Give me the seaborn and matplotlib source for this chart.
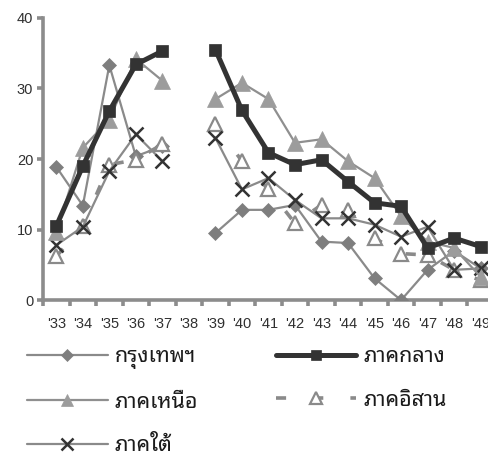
import matplotlib
matplotlib.use("Agg")
import matplotlib.pyplot as plt
from matplotlib.lines import Line2D
from matplotlib.ticker import FixedLocator, NullFormatter
import numpy as np
import pandas as pd
import seaborn as sns

# Survey years (Buddhist era, short form); '38 has no data
years = ["'33", "'34", "'35", "'36", "'37", "'38", "'39", "'40", "'41",
         "'42", "'43", "'44", "'45", "'46", "'47", "'48", "'49"]
nan = np.nan

bangkok = [18.9, 13.4, 33.3, 20.4, 21.8, nan, 9.5, 12.8, 12.8, 13.5,
           8.3, 8.1, 3.1, 0.0, 4.3, 7.0, 4.5]
central = [10.5, 19.0, 26.8, 33.4, 35.3, nan, 35.5, 26.9, 20.9, 19.2,
           19.9, 16.8, 13.8, 13.3, 7.4, 8.8, 7.6]
north = [9.7, 21.6, 25.6, 34.2, 31.1, nan, 28.5, 30.8, 28.5, 22.3,
         22.8, 19.7, 17.3, 11.9, 8.3, 7.4, 3.3]
northeast = [6.2, 10.5, 19.2, 19.9, 22.1, nan, 24.9, 19.7, 15.7, 10.9,
             13.5, 12.8, 8.8, 6.6, 6.4, 4.3, 2.8]
south = [7.8, 10.4, 18.3, 23.5, 19.7, nan, 23.0, 15.7, 17.3, 14.2,
         11.6, 11.6, 10.7, 9.0, 10.4, 4.3, 4.5]

names = ["กรุงเทพฯ", "ภาคกลาง", "ภาคเหนือ", "ภาคอิสาน", "ภาคใต้"]
series = [bangkok, central, north, northeast, south]

styles = {
    "กรุงเทพฯ": dict(color="#8a8a8a", lw=1.6, marker="D", ms=6.8,
                     mfc="#7e7e7e", mec="#7e7e7e", mew=0.5, ls="-"),
    "ภาคกลาง": dict(color="#333333", lw=3.6, marker="s", ms=8.6,
                    mfc="#333333", mec="#333333", mew=0.5, ls="-"),
    "ภาคเหนือ": dict(color="#8f8f8f", lw=1.6, marker="^", ms=11,
                     mfc="#9c9c9c", mec="#9c9c9c", mew=0.5, ls="-"),
    "ภาคอิสาน": dict(color="#8a8a8a", lw=2.6, marker="^", ms=10,
                     mfc="white", mec="#8a8a8a", mew=1.6,
                     ls=(0, (2.8, 7.5))),
    "ภาคใต้": dict(color="#8a8a8a", lw=1.6, marker="x", ms=10,
                   mfc="#333333", mec="#333333", mew=1.8, ls="-"),
}
draw_order = ["กรุงเทพฯ", "ภาคอิสาน", "ภาคใต้", "ภาคเหนือ", "ภาคกลาง"]

rows = []
for name, vals in zip(names, series):
    for i, (yr, v) in enumerate(zip(years, vals)):
        rows.append({"region": name, "pos": i, "year": yr, "value": v,
                     "segment": 0 if i < 5 else 1})
df = pd.DataFrame(rows).dropna()

sns.set_theme(style="white")
plt.rcParams["font.family"] = ["Liberation Sans", "DejaVu Sans"]

fig = plt.figure(figsize=(4.89, 4.59), dpi=100)
ax = fig.add_axes([0.088, 0.346, 0.922, 0.615])

for name in draw_order:
    st = styles[name]
    for seg in (0, 1):
        sub = df[(df["region"] == name) & (df["segment"] == seg)]
        sns.lineplot(data=sub, x="pos", y="value", ax=ax, estimator=None,
                     sort=False, legend=False, color=st["color"],
                     linewidth=st["lw"], linestyle=st["ls"],
                     marker=st["marker"], markersize=st["ms"],
                     markerfacecolor=st["mfc"], markeredgecolor=st["mec"],
                     markeredgewidth=st["mew"], zorder=3)

ax.set_xlim(-0.5, len(years) - 0.5)
ax.set_ylim(0, 40)
ax.set_xlabel("")
ax.set_ylabel("")

ax.set_xticks(range(len(years)))
ax.set_xticklabels(years)
ax.xaxis.set_minor_locator(FixedLocator(np.arange(-0.5, len(years), 1.0)))
ax.xaxis.set_minor_formatter(NullFormatter())
ax.set_yticks([0, 10, 20, 30, 40])

spine_col = "#8c8c8c"
for s in ("top", "right"):
    ax.spines[s].set_visible(False)
for s in ("left", "bottom"):
    ax.spines[s].set_color(spine_col)
    ax.spines[s].set_linewidth(2.6)
    ax.spines[s].set_zorder(2)
ax.tick_params(axis="x", which="major", length=0, pad=12,
               labelsize=10.5, labelcolor="#303030")
ax.tick_params(axis="x", which="minor", length=4, width=2.6,
               color=spine_col, direction="out", bottom=True)
ax.tick_params(axis="y", which="major", length=4, width=2.6,
               color=spine_col, direction="out", pad=3, left=True,
               labelsize=10.5, labelcolor="#303030")
ax.grid(False)

# legend: two columns, filled column by column
handles = []
order = ["กรุงเทพฯ", "ภาคเหนือ", "ภาคใต้", "ภาคกลาง", "ภาคอิสาน"]
for name in order:
    st = styles[name]
    handles.append(Line2D([], [], color=st["color"], lw=st["lw"],
                          ls=st["ls"], marker=st["marker"],
                          ms=st["ms"] * 0.85, mfc=st["mfc"], mec=st["mec"],
                          mew=st["mew"]))
leg = fig.legend(handles, order, loc="upper left",
                 bbox_to_anchor=(0.055, 0.246), ncol=2, frameon=False,
                 handlelength=3.75, handletextpad=0.33, columnspacing=3.6,
                 labelspacing=1.05, borderpad=0, borderaxespad=0,
                 prop={"family": ["Noto Sans Thai Looped", "DejaVu Sans"],
                       "size": 15.5})
for t in leg.get_texts():
    t.set_color("#1a1a1a")

fig.savefig("out.png", dpi=100)
